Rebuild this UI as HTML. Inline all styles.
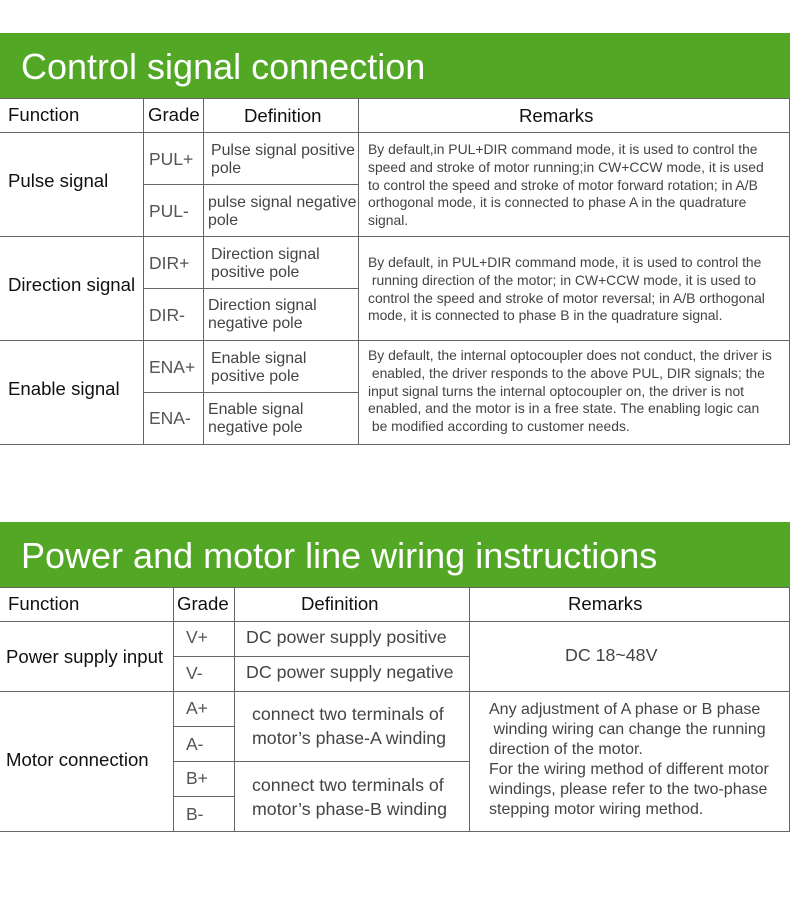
<!DOCTYPE html>
<html><head><meta charset="utf-8"><style>
body{margin:0;width:790px;height:898px;background:#fff;position:relative;overflow:hidden;font-family:"Liberation Sans",Arial,sans-serif;}
.g{position:absolute;left:0;width:790px;background:#52a725;}
.t{position:absolute;color:#fff;font-size:36px;white-space:nowrap;}
.h{position:absolute;background:#666;height:1px;}
.v{position:absolute;background:#666;width:1px;}
.x{position:absolute;white-space:nowrap;}
.k{color:#111;font-size:18.6px;}
.m{color:#555;font-size:17.5px;}
.r{color:#444;font-size:13.9px;line-height:17.8px;}
.q{color:#444;font-size:15.9px;line-height:18px;}
.p{color:#444;font-size:16px;line-height:20px;}
</style></head><body>
<div class="g" style="top:33px;height:65px"></div>
<div class="t" style="left:21px;top:46px">Control signal connection</div>
<div class="h" style="left:0;width:790px;top:98px"></div>
<div class="h" style="left:0;width:790px;top:132px"></div>
<div class="h" style="left:143px;width:215px;top:184px"></div>
<div class="h" style="left:0;width:790px;top:236px"></div>
<div class="h" style="left:143px;width:215px;top:288px"></div>
<div class="h" style="left:0;width:790px;top:340px"></div>
<div class="h" style="left:143px;width:215px;top:392px"></div>
<div class="h" style="left:0;width:790px;top:444px"></div>
<div class="v" style="left:143px;top:98px;height:346px"></div>
<div class="v" style="left:203px;top:98px;height:346px"></div>
<div class="v" style="left:358px;top:98px;height:346px"></div>
<div class="v" style="left:789px;top:98px;height:346px"></div>
<div class="x k" style="left:8px;top:104px">Function</div>
<div class="x k" style="left:148px;top:104px">Grade</div>
<div class="x k" style="left:244px;top:105px">Definition</div>
<div class="x k" style="left:519px;top:105px">Remarks</div>
<div class="x k" style="left:8px;top:170px">Pulse signal</div>
<div class="x k" style="left:8px;top:274px">Direction signal</div>
<div class="x k" style="left:8px;top:378px">Enable signal</div>
<div class="x m" style="left:149px;top:149px">PUL+</div>
<div class="x m" style="left:149px;top:201px">PUL-</div>
<div class="x m" style="left:149px;top:253px">DIR+</div>
<div class="x m" style="left:149px;top:305px">DIR-</div>
<div class="x m" style="left:149px;top:357px">ENA+</div>
<div class="x m" style="left:149px;top:408px">ENA-</div>
<div class="x q" style="left:211px;top:142px">Pulse signal positive<br>pole</div>
<div class="x q" style="left:208px;top:194px">pulse signal negative<br>pole</div>
<div class="x q" style="left:211px;top:246px">Direction signal<br>positive pole</div>
<div class="x q" style="left:208px;top:297px">Direction signal<br>negative pole</div>
<div class="x q" style="left:211px;top:350px">Enable signal<br>positive pole</div>
<div class="x q" style="left:208px;top:401px">Enable signal<br>negative pole</div>
<div class="x r" style="left:368px;top:141px">By default,in PUL+DIR command mode, it is used to control the<br>speed and stroke of motor running;in CW+CCW mode, it is used<br>to control the speed and stroke of motor forward rotation; in A/B<br>orthogonal mode, it is connected to phase A in the quadrature<br>signal.</div>
<div class="x r" style="left:368px;top:254px">By default, in PUL+DIR command mode, it is used to control the<br>&nbsp;running direction of the motor; in CW+CCW mode, it is used to<br>control the speed and stroke of motor reversal; in A/B orthogonal<br>mode, it is connected to phase B in the quadrature signal.</div>
<div class="x r" style="left:368px;top:347px">By default, the internal optocoupler does not conduct, the driver is<br>&nbsp;enabled, the driver responds to the above PUL, DIR signals; the<br>input signal turns the internal optocoupler on, the driver is not<br>enabled, and the motor is in a free state. The enabling logic can<br>&nbsp;be modified according to customer needs.</div>

<div class="g" style="top:522px;height:65px"></div>
<div class="t" style="left:21px;top:535px">Power and motor line wiring instructions</div>
<div class="h" style="left:0;width:790px;top:587px"></div>
<div class="h" style="left:0;width:790px;top:621px"></div>
<div class="h" style="left:173px;width:296px;top:656px"></div>
<div class="h" style="left:0;width:790px;top:691px"></div>
<div class="h" style="left:173px;width:61px;top:726px"></div>
<div class="h" style="left:173px;width:296px;top:761px"></div>
<div class="h" style="left:173px;width:61px;top:796px"></div>
<div class="h" style="left:0;width:790px;top:831px"></div>
<div class="v" style="left:173px;top:587px;height:244px"></div>
<div class="v" style="left:234px;top:587px;height:244px"></div>
<div class="v" style="left:469px;top:587px;height:244px"></div>
<div class="v" style="left:789px;top:587px;height:244px"></div>
<div class="x k" style="left:8px;top:593px">Function</div>
<div class="x k" style="left:177px;top:593px">Grade</div>
<div class="x k" style="left:301px;top:593px">Definition</div>
<div class="x k" style="left:568px;top:593px">Remarks</div>
<div class="x k" style="left:6px;top:646px">Power supply input</div>
<div class="x k" style="left:6px;top:749px">Motor connection</div>
<div class="x m" style="left:186px;top:627px">V+</div>
<div class="x m" style="left:186px;top:663px">V-</div>
<div class="x m" style="left:186px;top:698px">A+</div>
<div class="x m" style="left:186px;top:734px">A-</div>
<div class="x m" style="left:186px;top:768px">B+</div>
<div class="x m" style="left:186px;top:804px">B-</div>
<div class="x p" style="left:246px;top:627px;font-size:17.8px">DC power supply positive</div>
<div class="x p" style="left:246px;top:662px;font-size:17.8px">DC power supply negative</div>
<div class="x p" style="left:252px;top:702px;font-size:17.8px;line-height:24px">connect two terminals of<br>motor’s phase-A winding</div>
<div class="x p" style="left:252px;top:773px;font-size:17.8px;line-height:24px">connect two terminals of<br>motor’s phase-B winding</div>
<div class="x p" style="left:565px;top:645px;font-size:17.8px">DC 18~48V</div>
<div class="x p" style="left:489px;top:700px">Any adjustment of A phase or B phase<br>&nbsp;winding wiring can change the running<br>direction of the motor.<br>For the wiring method of different motor<br>windings, please refer to the two-phase<br>stepping motor wiring method.</div>
</body></html>
